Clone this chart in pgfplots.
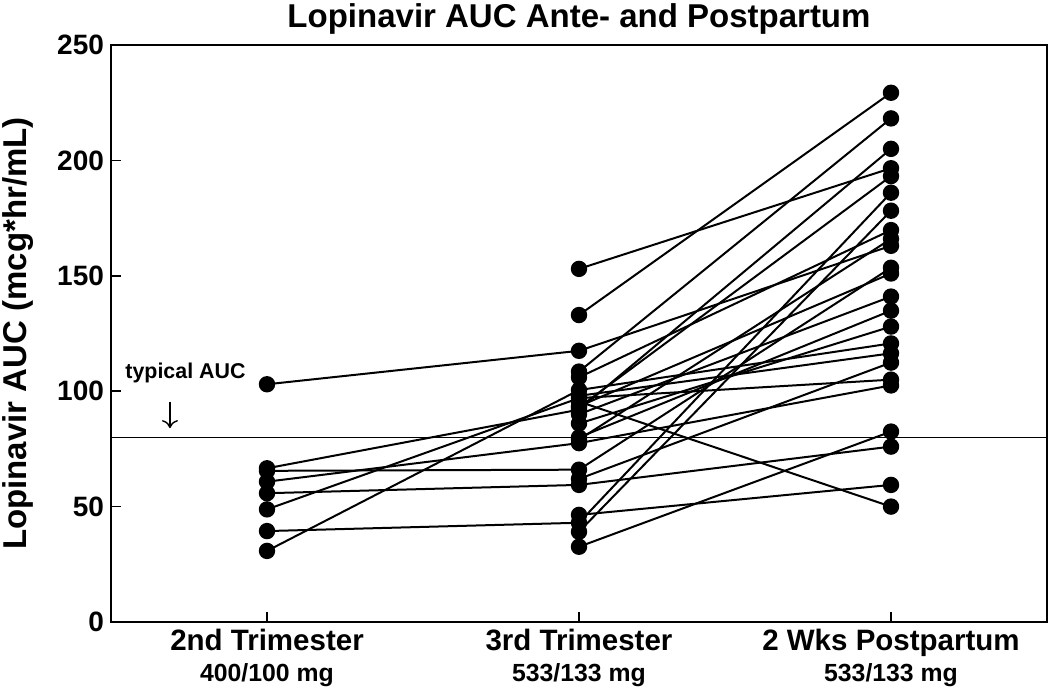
\documentclass[border=0pt]{standalone}
\usepackage{fontspec}
\setmainfont{Liberation Sans}
\usepackage{pgfplots}
\pgfplotsset{compat=1.18}
\usetikzlibrary{arrows.meta}
\pgfplotscreateplotcyclelist{subj}{%
  {black, solid, line width=1pt, mark=*, mark size=3.6pt, mark options={solid, fill=black, draw=black}}\\%
}
\begin{document}
\begin{tikzpicture}
\begin{axis}[
  scale only axis, width=468pt, height=288.5pt,
  xmin=-0.5, xmax=2.5, ymin=0, ymax=250,
  xtick={0,1,2},
  xticklabels={{2nd Trimester\\[1pt]{\fontsize{12.4}{14}\selectfont 400/100 mg}},
               {3rd Trimester\\[1pt]{\fontsize{12.4}{14}\selectfont 533/133 mg}},
               {2 Wks Postpartum\\[1pt]{\fontsize{12.4}{14}\selectfont 533/133 mg}}},
  ytick={0,50,100,150,200,250},
  tick align=inside, tick pos=left,
  major tick length=5pt,
  axis line style={line width=0.8pt},
  tick style={black, line width=0.8pt},
  /pgf/number format/assume math mode=true,
  yticklabel style={font=\bfseries\fontsize{14}{16}\selectfont},
  xticklabel style={align=center, font=\bfseries\fontsize{14.75}{14.5}\selectfont},
  ylabel={Lopinavir AUC (mcg*hr/mL)},
  ylabel style={font=\bfseries\fontsize{16.5}{19}\selectfont, at={(axis description cs:-0.0994,0.5)}, anchor=center},
  title={Lopinavir AUC Ante- and Postpartum},
  title style={font=\bfseries\fontsize{16.5}{19}\selectfont, at={(axis description cs:0.5,1)}, anchor=center, yshift=7pt},
  cycle list name=subj,
  clip=false,
]
\addplot[black, line width=0.8pt, mark=none, forget plot] coordinates {(-0.5,80) (2.5,80)};
% subjects with all three visits
\addplot coordinates {(0,103) (1,117.5) (2,163)};
\addplot coordinates {(0,66.6) (1,92) (2,205)};
\addplot coordinates {(0,65.5) (1,66) (2,153.5)};
\addplot coordinates {(0,60.8) (1,77.5) (2,102.5)};
\addplot coordinates {(0,55.8) (1,59.4) (2,76)};
\addplot coordinates {(0,48.8) (1,97) (2,105)};
\addplot coordinates {(0,39.4) (1,43) (2,186)};
\addplot coordinates {(0,30.8) (1,100.5) (2,120.7)};
% subjects with 3rd trimester and postpartum
\addplot coordinates {(1,153) (2,196.6)};
\addplot coordinates {(1,133) (2,229.3)};
\addplot coordinates {(1,108.5) (2,218.2)};
\addplot coordinates {(1,106) (2,169.8)};
\addplot coordinates {(1,93) (2,193.2)};
\addplot coordinates {(1,95.5) (2,50)};
\addplot coordinates {(1,90) (2,141)};
\addplot coordinates {(1,86) (2,128)};
\addplot coordinates {(1,80) (2,134.9)};
\addplot coordinates {(1,93.5) (2,151)};
\addplot coordinates {(1,98) (2,116.4)};
\addplot coordinates {(1,62) (2,112.4)};
\addplot coordinates {(1,46.4) (2,59.4)};
\addplot coordinates {(1,39.1) (2,178.2)};
\addplot coordinates {(1,32.6) (2,82.5)};
\addplot coordinates {(1,79) (2,166)};
\node[anchor=base west, font=\bfseries\fontsize{10.7}{12}\selectfont, inner sep=0pt] at (axis cs:-0.455,105.5) {typical AUC};
\draw[line width=0.7pt, -{To[length=4pt,width=8pt]}] (axis cs:-0.311,95.5) -- (axis cs:-0.311,84);
\end{axis}
\pgfresetboundingbox
\useasboundingbox (-55.5pt,-34.5pt) rectangle (469.5pt,311pt);
\end{tikzpicture}
\end{document}
